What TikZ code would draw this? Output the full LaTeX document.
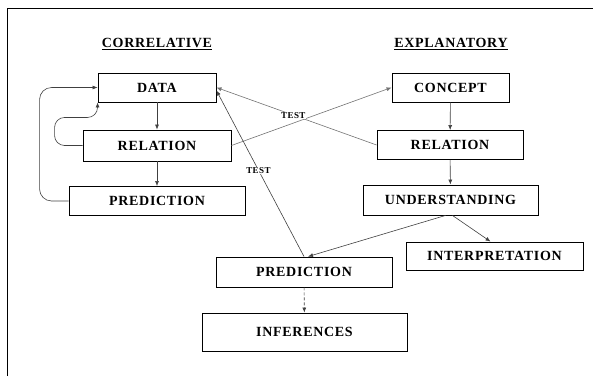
\documentclass[tikz,border=0pt]{standalone}
\usepackage{fontspec}
\setmainfont{Liberation Serif}[LetterSpace=5]
\usetikzlibrary{arrows.meta,graphs}
\tikzset{
    block/.style ={
        shape=rectangle,
        draw=black,
        line width=0.9pt,
        font=\fontsize{14}{16}\selectfont\bfseries,
        inner sep=0pt
    },
    title/.style ={
        font=\fontsize{14}{16}\selectfont\bfseries
    },
    tag/.style ={
        font=\fontsize{9}{10}\selectfont\bfseries,
        fill=white,
        inner sep=0.5pt
    },
    link/.style ={
        draw=black!75,
        line width=0.6pt,
        ->
    }
}

\begin{document}
\begin{tikzpicture}[x=1pt,y=-1pt,>={Latex[length=5pt,width=4pt]}]
    \useasboundingbox (0,0) rectangle (593,376);
    \draw[line width=0.9pt] (7,376) -- (7,8) -- (593,8);
    \node[title] (corr) at(157,44) {\underline{CORRELATIVE}};
    \node[title] (expl) at(451,44) {\underline{EXPLANATORY}};
    \node[block, minimum width=118pt, minimum height=29pt] (data) at(157,87.5) {DATA};
    \node[block, minimum width=148pt, minimum height=31pt] (crel) at(157,145.5) {RELATION};
    \node[block, minimum width=176pt, minimum height=29pt] (cpred) at(157,201) {PREDICTION};
    \node[block, minimum width=117pt, minimum height=29pt] (concept) at(450.5,87.5) {CONCEPT};
    \node[block, minimum width=146pt, minimum height=29pt] (erel) at(450,145) {RELATION};
    \node[block, minimum width=175pt, minimum height=30pt] (under) at(450.5,200) {UNDERSTANDING};
    \node[block, minimum width=177pt, minimum height=28pt] (interp) at(494.5,256) {INTERPRETATION};
    \node[block, minimum width=176pt, minimum height=30pt] (pred) at(304,272) {PREDICTION};
    \node[block, minimum width=205pt, minimum height=38pt] (infer) at(304.5,332) {INFERENCES};
    \graph[edges=link]{
        (data)->(crel)->(cpred);
        (concept)->(erel)->(under);
        (pred)->[densely dashed](infer)
    };
    % loops back to the data
    \draw[link, rounded corners=10pt] (crel.west) -- ++(-28,0) |- ([yshift=-15pt]data.south west) -- (data.south west);
    \draw[link, rounded corners=12pt] (cpred.west) -- ++(-29,0) |- (data.west);
    % tests
    \draw[link, draw=black!55] (crel.east) -- (concept.west);
    \draw[link, draw=black!55] (erel.west) -- node[tag, pos=0.52] (test1) {TEST} (data.east);
    \draw[link] (pred.north) -- node[tag, pos=0.52] (test2) {TEST} ([yshift=-3pt]data.east);
    \draw[link] ([xshift=-5pt]under.south) -- ([xshift=4pt]pred.north);
    \draw[link] ([xshift=2pt]under.south) -- ([xshift=-4pt]interp.north);
\end{tikzpicture}
\end{document}
